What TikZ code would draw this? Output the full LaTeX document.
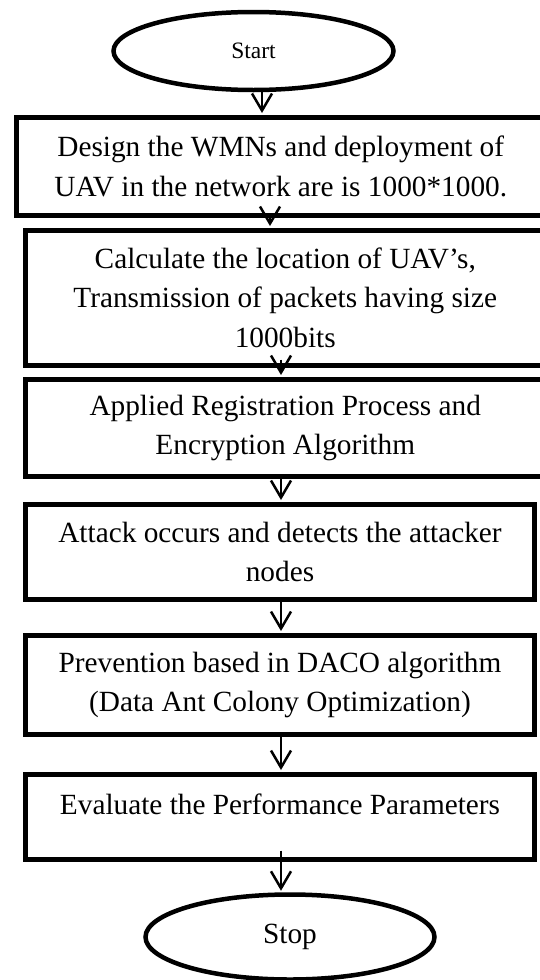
\documentclass[tikz,border=0pt]{standalone}
\usepackage{fontspec}
\setmainfont{Liberation Serif}
\usetikzlibrary{shapes.geometric,arrows.meta,calc}

\begin{document}
\begin{tikzpicture}[x=1pt,y=-1pt,
  stepbox/.style={draw, line width=5pt, rectangle, inner sep=0pt, align=center,
    font=\fontsize{29.3}{39.3}\selectfont},
  term/.style={draw, line width=4.5pt, ellipse, inner sep=0pt},
  arr/.style={line width=2.5pt, -{Straight Barb[length=17pt,width=20pt]}, shorten >=2pt}]

\path[use as bounding box, clip] (0,0) rectangle (540,980);
\fill[white] (0,0) rectangle (540,980);

% terminals
\node[term, minimum width=280pt, minimum height=78pt,
      font=\fontsize{23.5}{28}\selectfont] (start) at (253.5,51) {Start};
\node[term, minimum width=289pt, minimum height=85pt,
      font=\fontsize{29.3}{39.3}\selectfont] (stop) at (290,937) {Stop};

% process steps
\node[stepbox, minimum width=528.5pt, minimum height=98pt] (b1) at (280.75,166.5)
  {Design the WMNs and deployment of\\UAV in the network are is 1000*1000.};
\node[stepbox, minimum width=519.5pt, minimum height=134.5pt] (b2) at (285.25,297.75)
  {Calculate the location of UAV’s,\\Transmission of packets having size\\1000bits};
\node[stepbox, minimum width=519.5pt, minimum height=97pt] (b3) at (285.25,428)
  {Applied Registration Process and\\Encryption Algorithm};
\node[stepbox, minimum width=509pt, minimum height=95pt] (b4) at (280,552)
  {Attack occurs and detects the attacker\\nodes};
\node[stepbox, minimum width=509pt, minimum height=99pt] (b5) at (280,685)
  {Prevention based in DACO algorithm\\(Data Ant Colony Optimization)};
\node[stepbox, minimum width=509pt, minimum height=84.5pt, text depth=26pt] (b6) at (280,816.75)
  {Evaluate the Performance Parameters};

% connector columns
\coordinate (a1) at (262,0);
\coordinate (a2) at (270,0);
\coordinate (ax) at (281,0);

% connectors
\draw[arr] ($(start.south -| a1)+(0,-1)$) -- (b1.north -| a1);
\draw[arr] ($(b1.south -| a2)+(0,-2.5)$) -- (b2.north -| a2);
\draw[arr] ($(b2.south -| ax)+(0,-8)$) -- (b3.north -| ax);
\draw[arr] (b3.south -| ax) -- (b4.north -| ax);
\draw[arr] ($(b4.south -| ax)+(0,-4.5)$) -- (b5.north -| ax);
\draw[arr] (b5.south -| ax) -- (b6.north -| ax);
\draw[arr] ($(b6.south -| ax)+(0,-11)$) -- ($(stop.north -| ax)+(0,0.5)$);

\end{tikzpicture}
\end{document}
